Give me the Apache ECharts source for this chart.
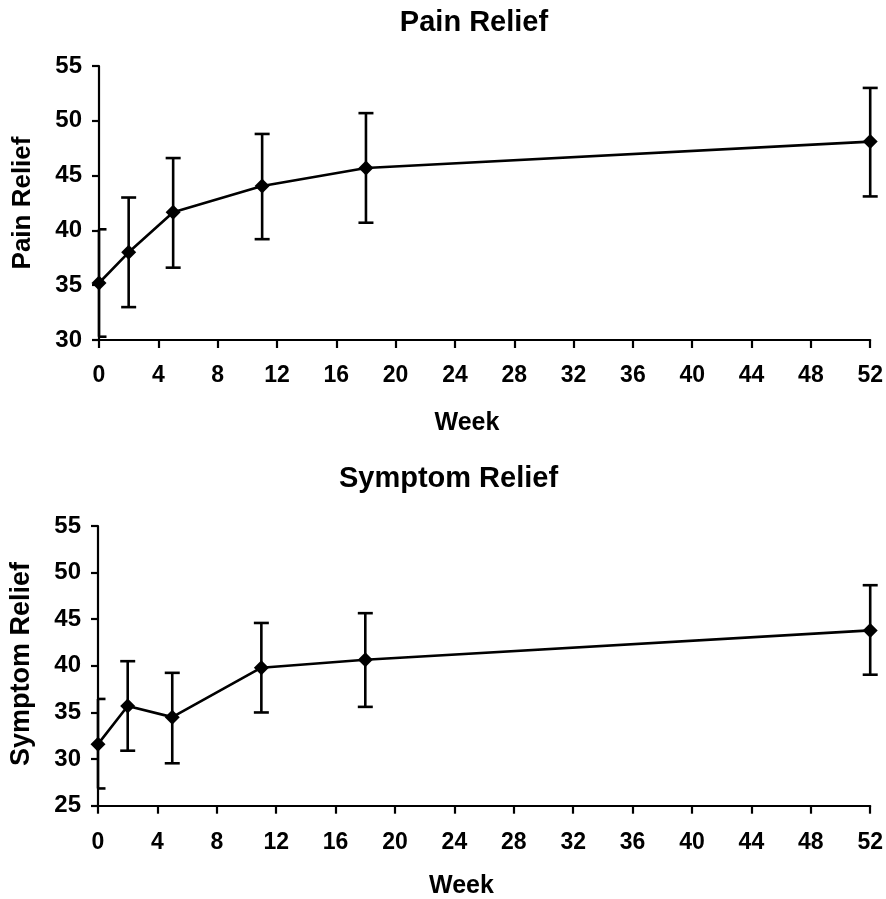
<!DOCTYPE html>
<html>
<head>
<meta charset="utf-8">
<script src="https://cdn.jsdelivr.net/npm/echarts@6/dist/echarts.min.js"></script>
<style>
html,body{margin:0;padding:0;background:#fff;}
#chart{width:886px;height:899px;}
</style>
</head>
<body>
<div id="chart"></div>
<script>
// ---- Data ----
const weeks = [0, 2, 5, 11, 18, 52];

const painMean  = [35.2, 38.0, 41.65, 44.05, 45.7, 48.1];
const painUpper = [40.1, 43.0, 46.6, 48.8, 50.7, 53.0];
const painLower = [30.3, 33.0, 36.6, 39.2, 40.7, 43.1];

const symMean  = [31.6, 35.7, 34.5, 39.8, 40.65, 43.8];
const symUpper = [36.45, 40.5, 39.25, 44.6, 45.65, 48.65];
const symLower = [26.85, 30.9, 29.55, 35.0, 35.6, 39.05];

const xTicks = { min: 0, max: 52, interval: 4 };
const painY = { min: 30, max: 55, interval: 5 };
const symY  = { min: 25, max: 55, interval: 5 };

const titles = ['Pain Relief', 'Symptom Relief'];
const yNames = ['Pain Relief', 'Symptom Relief'];
const xName = 'Week';

// ---- Build ----
const FONT = '"Liberation Sans", Arial, Helvetica, sans-serif';
const LW = 2.6;
const pts = (xs, ys) => xs.map((x, i) => [x, ys[i]]);
const errData = (xs, lo, hi) => xs.map((x, i) => [x, lo[i], hi[i]]);

function renderErr(params, api) {
  const x = api.value(0), lo = api.value(1), hi = api.value(2);
  const pLo = api.coord([x, lo]);
  const pHi = api.coord([x, hi]);
  const cs = params.coordSys;
  const hw = 7.5;
  const cl = v => Math.max(cs.x, v);   // only the left edge clips the caps
  const style = { stroke: '#000', lineWidth: LW, fill: null };
  return {
    type: 'group',
    children: [
      { type: 'line', shape: { x1: pLo[0], y1: pLo[1], x2: pHi[0], y2: pHi[1] }, style },
      { type: 'line', shape: { x1: cl(pHi[0] - hw), y1: pHi[1], x2: pHi[0] + hw, y2: pHi[1] }, style },
      { type: 'line', shape: { x1: cl(pLo[0] - hw), y1: pLo[1], x2: pLo[0] + hw, y2: pLo[1] }, style }
    ]
  };
}

function xAxisCfg(gi, margin) {
  return {
    gridIndex: gi, type: 'value',
    min: xTicks.min, max: xTicks.max, interval: xTicks.interval,
    axisLine: { show: true, lineStyle: { color: '#000', width: 2.2 } },
    axisTick: { show: true, inside: false, length: 8, lineStyle: { color: '#000', width: 2.2 } },
    axisLabel: { color: '#000', fontSize: 23, fontWeight: 'bold', fontFamily: FONT, margin: margin },
    splitLine: { show: false }
  };
}
function yAxisCfg(gi, r) {
  return {
    gridIndex: gi, type: 'value',
    min: r.min, max: r.max, interval: r.interval,
    axisLine: { show: true, lineStyle: { color: '#000', width: 2.2 } },
    axisTick: { show: true, inside: false, length: 7, lineStyle: { color: '#000', width: 2.2 } },
    axisLabel: { color: '#000', fontSize: 24, fontWeight: 'bold', fontFamily: FONT, margin: 17 },
    splitLine: { show: false }
  };
}
function lineSeries(i, data) {
  return {
    type: 'line', xAxisIndex: i, yAxisIndex: i, data: data,
    symbol: 'diamond', symbolSize: 15,
    lineStyle: { color: '#000', width: LW },
    itemStyle: { color: '#000' },
    z: 5, animation: false
  };
}
function errSeries(i, data) {
  return {
    type: 'custom', xAxisIndex: i, yAxisIndex: i, data: data,
    encode: { x: 0, y: [1, 2] },
    renderItem: renderErr, z: 3, animation: false
  };
}
function txt(text, x, y, size, rot) {
  return {
    type: 'text', x: x, y: y, rotation: rot || 0,
    style: { text: text, fill: '#000', font: 'bold ' + size + 'px ' + FONT, textAlign: 'center', textVerticalAlign: 'middle' }
  };
}

const chart = echarts.init(document.getElementById('chart'), null, { renderer: 'canvas' });
chart.setOption({
  backgroundColor: '#fff',
  animation: false,
  textStyle: { fontFamily: FONT },
  grid: [
    { left: 99, top: 66, width: 773.7, height: 274 },
    { left: 98, top: 526, width: 774.7, height: 279.7 }
  ],
  xAxis: [xAxisCfg(0, 24), xAxisCfg(1, 25)],
  yAxis: [yAxisCfg(0, painY), yAxisCfg(1, symY)],
  series: [
    errSeries(0, errData(weeks, painLower, painUpper)),
    lineSeries(0, pts(weeks, painMean)),
    errSeries(1, errData(weeks, symLower, symUpper)),
    lineSeries(1, pts(weeks, symMean))
  ],
  graphic: [
    txt(titles[0], 474, 23, 29),
    txt(titles[1], 448.5, 479, 29),
    txt(yNames[0], 23, 203, 26, Math.PI / 2),
    txt(yNames[1], 22, 664, 27, Math.PI / 2),
    txt(xName, 467, 423, 25),
    txt(xName, 461.5, 886, 25)
  ]
});
</script>
</body>
</html>
